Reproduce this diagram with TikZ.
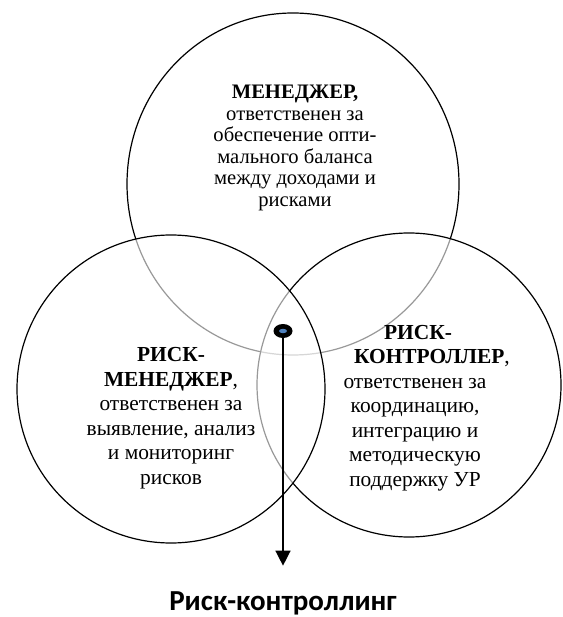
\documentclass[tikz,border=0pt]{standalone}
\usepackage{fontspec}
\setmainfont{Liberation Serif}
\newfontfamily\labelfont{Carlito}
\usetikzlibrary{arrows.meta,shapes.geometric}

\definecolor{dotblue}{RGB}{79,129,189}

\begin{document}
\begin{tikzpicture}[
    x=1pt, y=-1pt,
    >={Triangle[width=15pt,length=15pt]},
    role/.style={draw, line width=1.2pt, fill=white, fill opacity=0.6, inner sep=0pt},
    roletext/.style={align=center, inner sep=0pt, font=\fontsize{21.4}{24.5}\selectfont},
    line/.style={->, line width=1.4pt}
]
\useasboundingbox (0,0) rectangle (562,617);

% Three overlapping roles
\node[role, ellipse, minimum width=332pt, minimum height=342pt] (mgr) at (293,184) {};
\node[role, circle, minimum size=304pt] (ctl) at (409,385) {};
\node[role, circle, minimum size=308pt] (rmgr) at (171,389) {};

% Texts
\node[roletext, font=\fontsize{20.6}{21.5}\selectfont] (mgrtext) at (295,148)
    {\textbf{МЕНЕДЖЕР,}\\ответственен за\\обеспечение опти-\\мального баланса\\между доходами и\\рисками};
\node[roletext] (rmgrtext) at (171,418)
    {\textbf{РИСК-}\\\textbf{МЕНЕДЖЕР},\\ответственен за\\выявление, анализ\\и мониторинг\\рисков};
\node[roletext] (ctltext) at (415,408)
    {\hspace*{6pt}\textbf{РИСК-}\\\hspace*{34pt}\textbf{КОНТРОЛЛЕР},\\ответственен за\\координацию,\\интеграцию и\\методическую\\поддержку УР};

% Common zone and result
\node[ellipse, fill=black, minimum width=19pt, minimum height=14pt, inner sep=0pt] (hub) at (283,331) {};
\fill[dotblue] (hub.center) ellipse [x radius=4pt, y radius=2.2pt];

\node[anchor=base, font=\labelfont\bfseries\fontsize{29}{33}\selectfont] (rc) at (283,610) {Риск-контроллинг};
\draw[line, shorten >=22pt] (hub.south) -- (rc.north);

\end{tikzpicture}
\end{document}
